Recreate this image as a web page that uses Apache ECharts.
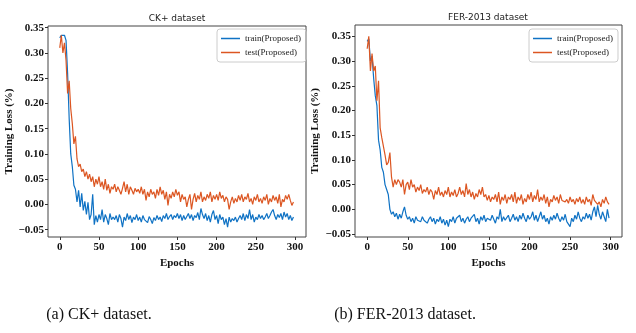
<!DOCTYPE html>
<html>
<head>
<meta charset="utf-8">
<script src="https://cdn.jsdelivr.net/npm/echarts@6/dist/echarts.min.js"></script>
<style>
  html, body { margin: 0; padding: 0; background: #fff; }
  #main { width: 636px; height: 333px; }
</style>
</head>
<body>
<div id="main"></div>
<script>
// loss values, one every 2 epochs (0, 2, ..., 298)
const epochStep = 2
const xTicks = [0, 50, 100, 150, 200, 250, 300]
const yTicks = [-0.05, 0.00, 0.05, 0.10, 0.15, 0.20, 0.25, 0.30, 0.35]
const seriesNames = ['train(Proposed)', 'test(Proposed)']

const ckTrain = [
  0.330, 0.335, 0.333, 0.335, 0.325, 0.26, 0.17, 0.10, 0.075, 0.038,
  0.030, 0.005, 0.028, -0.005, 0.022, -0.012, 0.006, -0.02, 0.004, -0.03,
  -0.02, 0.02, -0.04, -0.022, -0.035,
  -0.02, -0.03, -0.01, -0.035, -0.02, -0.028, -0.04, -0.018, -0.03, -0.025,
  -0.03, -0.022, -0.035, -0.02, -0.028, -0.045, -0.025, -0.032, -0.018, -0.03,
  -0.022, -0.036, -0.025, -0.03, -0.02, -0.032, -0.025, -0.035, -0.022, -0.03,
  -0.028, -0.036, -0.024, -0.03, -0.038, -0.026, -0.032, -0.022, -0.03, -0.025,
  -0.034, -0.022, -0.028, -0.018, -0.03, -0.024, -0.02, -0.03, -0.022, -0.026,
  -0.018, -0.028, -0.02, -0.032, -0.022, -0.03, -0.024, -0.018, -0.028, -0.02,
  -0.032, -0.022, -0.026, -0.016, -0.03, -0.008, -0.02, -0.028, -0.018, -0.032,
  -0.022, -0.035, -0.02, -0.012, -0.03, -0.022, -0.038, -0.02, -0.03, -0.025,
  -0.04, -0.028, -0.045, -0.025, -0.035, -0.028, -0.032, -0.025, -0.035, -0.028,
  -0.022, -0.03, -0.018, -0.032, -0.02, -0.028, -0.01, -0.03, -0.02, -0.035,
  -0.025, -0.03, -0.02, -0.028, -0.022, -0.03, -0.025, -0.018, -0.028, -0.022,
  -0.015, -0.01, -0.022, -0.03, -0.02, -0.026, -0.018, -0.03, -0.015, -0.025,
  -0.018, -0.03, -0.022, -0.032, -0.025
]
const ckTest = [
  0.31, 0.335, 0.30, 0.32, 0.285, 0.22, 0.245, 0.19, 0.16, 0.12,
  0.135, 0.09, 0.075, 0.08, 0.065, 0.07, 0.055, 0.065, 0.05, 0.06,
  0.045, 0.055, 0.035, 0.05, 0.04,
  0.055, 0.035, 0.045, 0.03, 0.05, 0.028, 0.04, 0.022, 0.035, 0.03,
  0.04, 0.025, 0.035, 0.028, 0.02, 0.032, 0.045, 0.025, 0.04, 0.02,
  0.035, 0.028, 0.02, 0.032, 0.025, 0.03, 0.022, 0.035, 0.02, 0.03,
  0.008, 0.025, 0.015, 0.03, 0.02, 0.025, 0.012, 0.03, 0.018, 0.035,
  0.02, 0.028, 0.01, 0.025, -0.002, 0.02, 0.012, 0.025, 0.015, 0.03,
  0.018, 0.025, 0.005, 0.02, 0.01, 0.015, -0.005, 0.01, 0.02, -0.01,
  0.01, 0.022, 0.005, 0.018, 0.01, 0.025, 0.005, 0.015, 0.008, 0.02,
  0.012, 0.025, 0.005, 0.018, 0.01, 0.02, 0.008, 0.025, 0.012, 0.018,
  0.005, 0.015, 0.01, -0.01, 0.005, 0.015, 0.002, 0.012, 0.005, 0.018,
  0.008, 0.02, 0.005, 0.015, 0.01, 0.022, 0.005, 0.012, 0.0, 0.015,
  0.008, 0.02, 0.005, 0.012, 0.002, 0.015, 0.008, 0.02, 0.0, 0.012,
  0.005, 0.018, 0.008, 0.015, 0.002, 0.02, -0.005, 0.01, 0.005, 0.018,
  0.01, 0.02, 0.008, -0.002, 0.005
]
const ferTrain = [
  0.34, 0.345, 0.30, 0.31, 0.265, 0.23, 0.21, 0.14, 0.12, 0.085,
  0.075, 0.05, 0.04, 0.03, 0.0, -0.01, -0.005, -0.015, -0.008, -0.02,
  -0.01, -0.018, -0.005, 0.005, -0.012,
  -0.02, -0.015, -0.025, -0.018, -0.028, -0.015, -0.022, -0.018, -0.025, -0.015,
  -0.022, -0.018, -0.028, -0.02, -0.015, -0.025, -0.018, -0.03, -0.02, -0.025,
  -0.015, -0.028, -0.02, -0.032, -0.022, -0.035, -0.02, -0.025, -0.015, -0.028,
  -0.018, -0.022, -0.012, -0.025, -0.018, -0.028, -0.02, -0.015, -0.025, -0.018,
  -0.022, -0.01, -0.025, -0.018, -0.03, -0.015, -0.022, -0.012, -0.025, -0.018,
  -0.015, -0.022, -0.012, -0.02, -0.028, -0.015, -0.02, 0.0, -0.025, -0.015,
  -0.022, -0.018, -0.012, -0.025, -0.018, -0.01, -0.022, -0.015, -0.025, -0.012,
  -0.02, -0.008, -0.018, -0.025, -0.012, -0.02, -0.015, -0.005, -0.022, -0.012,
  -0.025, -0.015, -0.005, -0.02, -0.012, -0.025, -0.018, -0.03, -0.015, -0.022,
  -0.012, -0.02, -0.008, -0.018, -0.025, -0.015, -0.022, -0.01, -0.025, -0.03,
  -0.035, -0.018, -0.025, -0.012, -0.02, -0.005, -0.018, -0.025, -0.015, -0.02,
  -0.008, -0.018, -0.01, -0.022, -0.005, 0.005, -0.015, 0.008, -0.01, -0.02,
  -0.005, -0.015, -0.025, 0.0, -0.018
]
const ferTest = [
  0.325, 0.35, 0.28, 0.315, 0.28, 0.29, 0.22, 0.26, 0.165, 0.145,
  0.145, 0.11, 0.09, 0.095, 0.115, 0.065, 0.045, 0.06, 0.05, 0.06,
  0.055, 0.045, 0.06, 0.03, 0.05,
  0.055, 0.04, 0.06, 0.045, 0.05, 0.035, 0.045, 0.038, 0.05, 0.032,
  0.04, 0.035, 0.045, 0.03, 0.04, 0.035, 0.02, 0.038, 0.03, 0.045,
  0.028, 0.035, 0.025, 0.038, 0.03, 0.045, 0.025, 0.035, 0.028, 0.04,
  0.025, 0.032, 0.045, 0.03, 0.038, 0.025, 0.052, 0.03, 0.04, 0.025,
  0.035, 0.02, 0.032, 0.025, 0.04, 0.03, 0.045, 0.025, 0.03, 0.018,
  0.028, 0.015, 0.025, 0.02, 0.03, 0.015, 0.035, 0.01, 0.025, 0.018,
  0.03, 0.012, 0.025, 0.02, 0.03, 0.015, 0.035, 0.012, 0.025, 0.018,
  0.03, 0.01, 0.022, 0.015, 0.03, 0.02, 0.035, 0.015, 0.028, 0.02,
  0.04, 0.015, 0.025, 0.018, 0.03, 0.012, 0.025, 0.005, 0.02, 0.015,
  0.028, 0.018, 0.025, 0.012, 0.03, 0.018, 0.022, 0.015, 0.02, 0.012,
  0.025, 0.015, 0.02, 0.01, 0.022, 0.015, 0.025, 0.012, 0.02, 0.01,
  0.025, 0.015, 0.02, 0.008, 0.03, 0.018, 0.022, 0.01, 0.015, 0.005,
  0.02, 0.012, 0.025, 0.015, 0.01
]

const blue = '#0f72c4'
const orange = '#dc5622'
const serif = 'Liberation Serif'

const toPairs = arr => arr.map((v, i) => [i * epochStep, v])
const yFmt = v => (v < 0 ? '\u2212' : '') + Math.abs(v).toFixed(2)

const myChart = echarts.init(document.getElementById('main'))

const makeX = (gridIndex) => ({
  type: 'value',
  gridIndex: gridIndex,
  min: -15,
  max: 314,
  name: 'Epochs',
  nameLocation: 'middle',
  nameGap: 15,
  nameTextStyle: { fontFamily: serif, fontWeight: 'bold', fontSize: 11, color: '#111' },
  splitLine: { show: false },
  axisLine: { show: false, onZero: false },
  axisTick: { show: true, inside: false, length: 3, customValues: xTicks, lineStyle: { color: '#333' } },
  axisLabel: { customValues: xTicks, fontFamily: serif, fontWeight: 'bold', fontSize: 11, color: '#111', margin: 5 }
})

const makeY = (gridIndex, min, max, gap) => ({
  type: 'value',
  gridIndex: gridIndex,
  min: min,
  max: max,
  name: 'Training Loss (%)',
  nameLocation: 'middle',
  nameGap: gap,
  nameTextStyle: { fontFamily: serif, fontWeight: 'bold', fontSize: 11, color: '#111' },
  splitLine: { show: false },
  axisLine: { show: false, onZero: false },
  axisTick: { show: true, inside: false, length: 3, customValues: yTicks, lineStyle: { color: '#333' } },
  axisLabel: { customValues: yTicks, formatter: yFmt, fontFamily: serif, fontWeight: 'bold', fontSize: 11, color: '#111', margin: 4 }
})

const makeLegend = (left) => ({
  left: left,
  top: 29,
  orient: 'vertical',
  icon: 'rect',
  itemWidth: 19,
  itemHeight: 1.5,
  itemGap: 5,
  padding: [5, 5, 5, 4],
  borderColor: '#ccc',
  borderWidth: 1,
  borderRadius: 3,
  data: seriesNames,
  textStyle: { fontFamily: serif, fontSize: 9, color: '#222' }
})

const line = (name, data, color, axisIndex) => ({
  name: name,
  type: 'line',
  xAxisIndex: axisIndex,
  yAxisIndex: axisIndex,
  data: toPairs(data),
  symbol: 'none',
  color: color,
  lineStyle: { width: 1.2, color: color },
  animation: false
})

myChart.setOption({
  animation: false,
  title: [
    { text: 'CK+ dataset', left: 172, top: 9, textAlign: 'center',
      textStyle: { fontFamily: 'DejaVu Sans', fontWeight: 'normal', fontSize: 9, color: '#222' } },
    { text: 'FER-2013 dataset', left: 483, top: 8, textAlign: 'center',
      textStyle: { fontFamily: 'DejaVu Sans', fontWeight: 'normal', fontSize: 9, color: '#222' } },
    { text: '(a) CK+ dataset.', left: 94, top: 302, textAlign: 'center',
      textStyle: { fontFamily: serif, fontWeight: 'normal', fontSize: 16, color: '#111' } },
    { text: '(b) FER-2013 dataset.', left: 400, top: 302, textAlign: 'center',
      textStyle: { fontFamily: serif, fontWeight: 'normal', fontSize: 16, color: '#111' } }
  ],
  legend: [makeLegend(217), makeLegend(529)],
  grid: [
    { left: 48, top: 26, width: 258, height: 211, show: true, borderColor: '#444', borderWidth: 1, containLabel: false },
    { left: 355, top: 25, width: 267, height: 212, show: true, borderColor: '#444', borderWidth: 1, containLabel: false }
  ],
  xAxis: [makeX(0), makeX(1)],
  yAxis: [makeY(0, -0.0645, 0.3534, 29), makeY(1, -0.056, 0.373, 34)],
  series: [
    line(seriesNames[0], ckTrain, blue, 0),
    line(seriesNames[1], ckTest, orange, 0),
    line(seriesNames[0], ferTrain, blue, 1),
    line(seriesNames[1], ferTest, orange, 1)
  ]
})
</script>
</body>
</html>
